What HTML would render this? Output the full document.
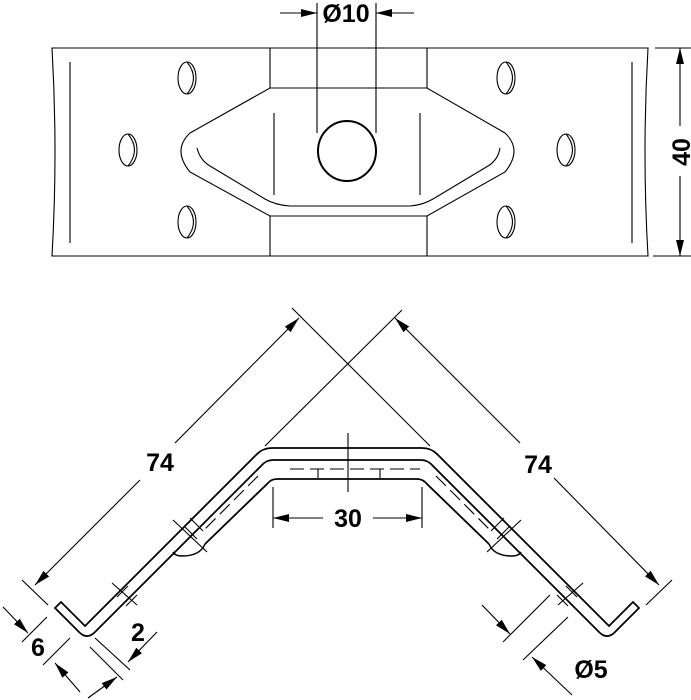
<!DOCTYPE html>
<html><head><style>html,body{margin:0;padding:0;background:#fff}svg{display:block}</style></head>
<body>
<svg width="691" height="700" viewBox="0 0 691 700" xmlns="http://www.w3.org/2000/svg" font-family="Liberation Sans, sans-serif" font-weight="bold">
<defs>
<marker id="b" viewBox="0 0 16 8" refX="16" refY="4" markerWidth="16" markerHeight="8" orient="auto" markerUnits="userSpaceOnUse"><path d="M0,0L16,4L0,8z" fill="#000"/></marker>
</defs>
<g fill="none" stroke="#000" stroke-width="1.1">
<path d="M52,48 L648,48 Q642,152 648,256 L52,256 Q58,152 52,48Z"/>
<line x1="70" y1="62" x2="70" y2="243"/><line x1="632" y1="62" x2="632" y2="243"/>
<line x1="270" y1="48" x2="270" y2="88"/><line x1="427" y1="48" x2="427" y2="88"/>
<line x1="270" y1="216" x2="270" y2="256"/><line x1="427" y1="216" x2="427" y2="256"/>
<path d="M270,88 L427,88 L505,133 Q523,150 505,172 L427,216 L270,216 L190,172 Q172,150 190,133 Z"/>
<path d="M197,148 Q200,160 210,166 L265,199 Q275,205 290,206 L410,206 Q423,205 433,199 L488,166 Q498,160 500,148"/>
<line x1="274" y1="113" x2="274" y2="195"/><line x1="420" y1="113" x2="420" y2="195"/>
<ellipse cx="347" cy="151" rx="29" ry="30" stroke-width="2"/>
<line x1="317" y1="3" x2="317" y2="133"/><line x1="376" y1="3" x2="376" y2="133"/>
<line x1="280" y1="13" x2="317" y2="13" marker-end="url(#b)"/><line x1="414" y1="13" x2="376" y2="13" marker-end="url(#b)"/>
<g>
<ellipse cx="187" cy="78" rx="9" ry="16"/><path d="M187,62 Q200,78 187,94"/>
<ellipse cx="187" cy="222" rx="9" ry="16"/><path d="M187,206 Q200,222 187,238"/>
<ellipse cx="128" cy="150" rx="9" ry="16"/><path d="M128,134 Q141,150 128,166"/>
<ellipse cx="506" cy="78" rx="9" ry="16"/><path d="M506,62 Q519,78 506,94"/>
<ellipse cx="506" cy="222" rx="9" ry="16"/><path d="M506,206 Q519,222 506,238"/>
<ellipse cx="566" cy="150" rx="9" ry="16"/><path d="M566,134 Q579,150 566,166"/>
</g>
<line x1="655" y1="48" x2="691" y2="48"/><line x1="653" y1="256" x2="691" y2="256"/>
<line x1="680" y1="126" x2="680" y2="48" marker-end="url(#b)"/><line x1="680" y1="176" x2="680" y2="256" marker-end="url(#b)"/>

<path d="M55,608 L61,602 L85,626 L257,454 Q263,448 272,448 L422,448 Q431,448 437,454 L609,626 L633,602 L639,608 L614,633 Q607,639 600,633 L433,466 Q428,460 421,460 L273,460 Q266,460 261,466 L94,633 Q87,639 80,633 Z" stroke-width="1.8"/>
<path d="M205,544 L267,484 Q271,479 277,479 L417,479 Q423,479 427,484 L489,544" stroke-width="1.8"/>
<path d="M205,544 Q200,556 182,556 Q175,556 173,552" stroke-width="1.5"/>
<path d="M489,544 Q494,556 512,556 Q519,556 521,552" stroke-width="1.5"/>
<line x1="290" y1="469" x2="420" y2="469" stroke-dasharray="14,6"/>
<line x1="318" y1="469" x2="318" y2="478"/><line x1="380" y1="469" x2="380" y2="478"/>
<line x1="348" y1="433" x2="348" y2="492"/>
<line x1="258" y1="476" x2="205" y2="529" stroke-dasharray="14,6"/>
<line x1="436" y1="476" x2="489" y2="529" stroke-dasharray="14,6"/>
<line x1="173" y1="520" x2="207" y2="552"/><line x1="184" y1="526" x2="197" y2="539"/><line x1="190" y1="518" x2="203" y2="531"/>
<line x1="112" y1="583" x2="137" y2="605"/><line x1="117" y1="597" x2="128" y2="586"/><line x1="126" y1="606" x2="137" y2="595"/>
<line x1="521" y1="520" x2="487" y2="552"/><line x1="510" y1="526" x2="497" y2="539"/><line x1="504" y1="518" x2="491" y2="531"/>
<line x1="583" y1="583" x2="558" y2="605"/><line x1="577" y1="597" x2="566" y2="586"/><line x1="568" y1="606" x2="557" y2="595"/>
<line x1="292" y1="308" x2="430" y2="446"/><line x1="402" y1="310" x2="265" y2="446"/>
<line x1="22" y1="580" x2="48" y2="605"/><line x1="672" y1="580" x2="646" y2="605"/>
<line x1="175" y1="443" x2="299" y2="318" marker-end="url(#b)"/><line x1="140" y1="480" x2="35" y2="585" marker-end="url(#b)"/>
<line x1="520" y1="443" x2="395" y2="318" marker-end="url(#b)"/><line x1="554" y1="478" x2="659" y2="585" marker-end="url(#b)"/>
<line x1="273" y1="487" x2="273" y2="528"/><line x1="422" y1="487" x2="422" y2="528"/>
<line x1="323" y1="518" x2="273" y2="518" marker-end="url(#b)"/><line x1="373" y1="518" x2="422" y2="518" marker-end="url(#b)"/>
<line x1="22" y1="642" x2="47" y2="617"/><line x1="43" y1="665" x2="70" y2="638"/>
<line x1="3" y1="607" x2="28" y2="633" marker-end="url(#b)"/><line x1="80" y1="692" x2="55" y2="663" marker-end="url(#b)"/>
<line x1="95" y1="638" x2="130" y2="670"/><line x1="90" y1="647" x2="123" y2="680"/>
<line x1="157" y1="632" x2="128" y2="662" marker-end="url(#b)"/><line x1="88" y1="698" x2="117" y2="677" marker-end="url(#b)"/>
<line x1="550" y1="595" x2="503" y2="642"/><line x1="568" y1="617" x2="523" y2="660"/>
<line x1="482" y1="605" x2="510" y2="634" marker-end="url(#b)"/><line x1="572" y1="695" x2="532" y2="657" marker-end="url(#b)"/>
</g>
<g font-size="25" fill="#000">
<text x="346" y="22" text-anchor="middle">Ø10</text>
<text transform="translate(690,152) rotate(-90)" text-anchor="middle">40</text>
<text x="160" y="471" text-anchor="middle">74</text>
<text x="538" y="473" text-anchor="middle">74</text>
<text x="348" y="527" text-anchor="middle">30</text>
<text x="38" y="656" text-anchor="middle">6</text>
<text x="138" y="641" text-anchor="middle">2</text>
<text x="591" y="678" text-anchor="middle">Ø5</text>
</g>
</svg>
</body></html>
